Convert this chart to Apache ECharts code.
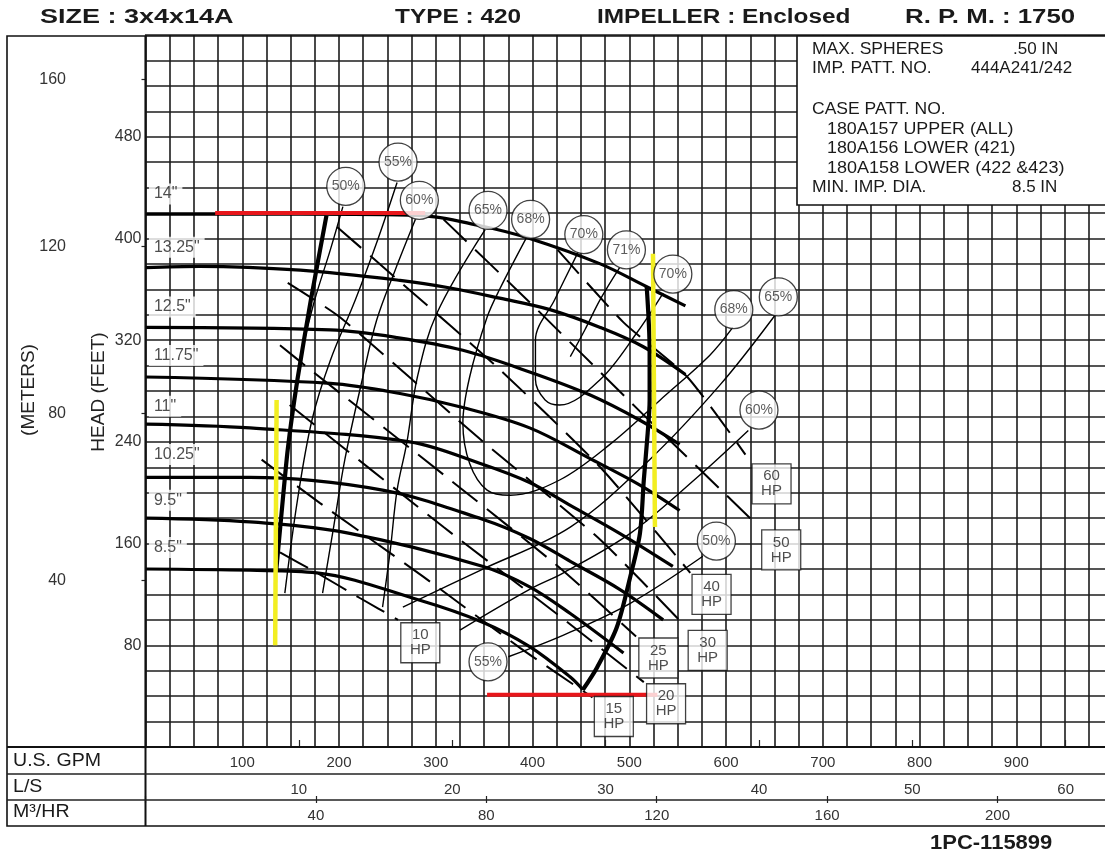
<!DOCTYPE html>
<html>
<head>
<meta charset="utf-8">
<script src="https://cdn.jsdelivr.net/npm/echarts@6/dist/echarts.min.js"></script>
<style>
  html, body { margin: 0; padding: 0; background: #fff; }
  #chart { width: 1105px; height: 853px; }
</style>
</head>
<body>
<div id="chart"></div>
<script>
// Pump performance curve, 3x4x14A, 1750 RPM. Flow in U.S. GPM, head in feet.

// Impeller diameter curves [gpm, ft]
const dia14 = [[0,419],[160,419],[284,418],[346,410],[397,400],[470,380],[518,362],[558,347]];
const dia1325 = [[0,377],[56,378],[160,375],[263,367],[315,361],[366,353],[418,344],[470,330],[514,315],[558,293]];
const dia125 = [[0,330],[191,328],[260,322],[328,312],[397,295],[459,277],[511,257],[552,238]];
const dia1175 = [[0,291],[191,286],[263,278],[328,267],[397,251],[459,227],[511,206],[552,186]];
const dia11 = [[0,254],[108,251],[273,240],[346,223],[397,208],[439,190],[490,168],[545,142]];
const dia1025 = [[0,212],[108,212],[245,202],[349,179],[397,164],[439,146],[490,124],[535,100]];
const dia95 = [[0,180],[108,177],[211,168],[349,142],[397,126],[439,105],[494,74]];
const dia85 = [[0,140],[108,139],[177,137],[281,116],[349,98],[397,79],[439,55],[452,45]];

// Diameter labels [gpm, ft, text]
const diaLabels = [[3,435,'14"'],[3,393,'13.25"'],[3,346,'12.5"'],[3,308,'11.75"'],[3,268,'11"'],[3,230,'10.25"'],[3,194,'9.5"'],[3,157,'8.5"']];

// Operating boundaries
const minFlowEdge = [[187,418],[171,352],[157,289],[147,234],[140,179],[135,138]];
const maxFlowEdge = [[518,362],[521,312],[521,273],[519,247],[515,210],[511,168],[501,134],[487,94],[467,63],[452,45]];

// Efficiency contours
const eff50a = [[204,425],[191,391],[175,352],[163,316]];
const eff50b = [[576,150],[501,113],[432,88],[375,71]];
const eff55a = [[260,444],[240,399],[217,352],[191,304],[172,257],[157,194],[144,121]];
const eff60a = [[279,415],[258,375],[239,336],[224,289],[206,226],[194,171],[183,121]];
const eff60b = [[623,249],[570,212],[501,168],[432,137],[397,124],[325,92]];
const eff65a = [[351,407],[301,341],[281,291],[270,239],[260,202],[253,155],[245,110]];
const eff65b = [[266,110],[346,139],[439,173],[521,226],[594,285],[651,340]];
const eff68 = [[394,401],[366,360],[353,338],[335,291],[328,255],[335,223],[353,202],[377,198],[428,210],[480,238],[532,273],[583,308],[607,330]];
const eff70 = [[447,389],[423,352],[403,320],[403,289],[413,273],[428,269],[470,289],[508,326],[535,357]];
const eff71 = [[490,377],[470,352],[454,328],[439,307]];

// Brake horsepower lines [gpm, ft]
const hp10 = [[139,153],[177,137],[222,117],[261,100]];
const hp15 = [[120,226],[180,192],[287,134],[387,78],[462,39]];
const hp20 = [[149,269],[308,173],[428,103],[515,51]];
const hp25 = [[139,316],[170,297],[315,210],[428,141],[507,87]];
const hp30 = [[147,365],[201,338],[346,242],[470,163],[559,94]];
const hp40 = [[198,409],[263,366],[366,297],[470,220],[563,137]];
const hp50 = [[308,415],[394,352],[511,264],[633,174]];
const hp60 = [[426,391],[494,334],[560,291],[620,230]];

// Efficiency tags [gpm, ft, text]
const effTags = [[207,441,'50%'],[261,460,'55%'],[283,430,'60%'],[354,422,'65%'],[398,415,'68%'],[453,403,'70%'],[497,391,'71%'],[545,372,'70%'],[608,344,'68%'],[654,354,'65%'],[634,265,'60%'],[590,162,'50%'],[354,67,'55%']];

// Horsepower tags [gpm, ft, hp]
const hpTags = [[284,82,10],[484,24,15],[538,34,20],[530,70,25],[581,76,30],[585,120,40],[657,155,50],[647,207,60]];

// Reference markers
const redTop = [[72,420],[289,420]];
const redBottom = [[353,41],[529,41]];
const yellowLeft = [[135.5,273],[134,80]];
const yellowRight = [[524.5,388],[526.5,173]];

// Axis settings
const gpmMax = 1000, headMax = 560;
const lpsPerGpm = 0.0630902, m3hPerGpm = 0.227125, mPerFt = 0.3048;

const FONT = '"Liberation Sans", Arial, sans-serif';
const chart = echarts.init(document.getElementById('chart'), null, { renderer: 'canvas' });

const gridLine = { show: true, lineStyle: { color: '#1c1c1c', width: 1.6 } };

function curve(data, width, extra) {
  return Object.assign({
    type: 'line', data: data, smooth: 0.35, showSymbol: false, silent: true,
    lineStyle: { color: '#000', width: width }, z: 5
  }, extra || {});
}

const series = [];
[dia14, dia1325, dia125, dia1175, dia11, dia1025, dia95, dia85].forEach(d => series.push(curve(d, 3.2)));
series.push(curve(minFlowEdge, 4.2, { smooth: 0.2 }));
series.push(curve(maxFlowEdge, 4.2, { smooth: 0.3 }));
[eff50a, eff50b, eff55a, eff60a, eff60b, eff65a, eff65b, eff68, eff70, eff71].forEach(d => series.push(curve(d, 1.4, { z: 4 })));
[hp10, hp15, hp20, hp25, hp30, hp40, hp50, hp60].forEach(d => series.push(curve(d, 2, { smooth: 0.2, z: 4, lineStyle: { color: '#000', width: 2, type: [32, 12] } })));
series.push(curve(redTop, 4, { smooth: false, lineStyle: { color: '#e8161b', width: 4 }, z: 7 }));
series.push(curve(redBottom, 4, { smooth: false, lineStyle: { color: '#e8161b', width: 4 }, z: 7 }));
series.push(curve(yellowLeft, 4.5, { smooth: false, lineStyle: { color: '#f2ee22', width: 4.5 }, z: 7 }));
series.push(curve(yellowRight, 4.5, { smooth: false, lineStyle: { color: '#f2ee22', width: 4.5 }, z: 7 }));

series.push({
  type: 'scatter', data: diaLabels, symbolSize: 1, silent: true, z: 6,
  itemStyle: { color: 'rgba(0,0,0,0)' },
  label: { show: true, position: 'right', distance: 0, formatter: p => p.value[2],
    fontFamily: FONT, fontSize: 16, color: '#222', backgroundColor: '#fff', padding: [3, 5, 2, 5] }
});
series.push({
  type: 'scatter', data: effTags, symbol: 'circle', symbolSize: [38, 38], silent: true, z: 8,
  itemStyle: { color: '#fff', borderColor: '#111', borderWidth: 1.3 },
  label: { show: true, position: 'inside', formatter: p => p.value[2], fontFamily: FONT, fontSize: 14, color: '#333' }
});
series.push({
  type: 'scatter', data: hpTags, symbol: 'rect', symbolSize: [39, 40], silent: true, z: 8,
  itemStyle: { color: '#fff', borderColor: '#111', borderWidth: 1.3 },
  label: { show: true, position: 'inside', formatter: p => p.value[2] + '\nHP', lineHeight: 15, fontFamily: FONT, fontSize: 15, color: '#222' }
});

const GL = 145.5, GT = 35, GW = 967.6, GH = 712;
const GB = GT + GH;

function txt(x, y, text, font, sx, extra) {
  return Object.assign({ type: 'text', x: x, y: y, scaleX: sx || 1, z: 23, silent: true,
    style: { text: text, font: font, fill: '#1a1a1a', align: 'left', verticalAlign: 'middle' } }, extra || {});
}

chart.setOption({
  animation: false,
  backgroundColor: '#fff',
  textStyle: { fontFamily: FONT },
  grid: { left: GL, top: GT, width: GW, height: GH, containLabel: false, outerBoundsMode: 'none' },
  xAxis: [
    { type: 'value', min: 0, max: gpmMax, interval: 25, splitLine: gridLine,
      axisLine: { show: false }, axisTick: { show: false },
      axisLabel: { margin: 8, fontSize: 15, color: '#333', fontFamily: FONT, showMaxLabel: false,
        formatter: v => (v % 100 === 0 && v > 0 && v < gpmMax) ? v : '' } },
    { type: 'value', min: 0, max: gpmMax * lpsPerGpm, interval: 10, position: 'bottom', offset: 30,
      splitLine: { show: false }, axisLine: { show: false },
      axisTick: { show: true, inside: true, length: 7, lineStyle: { color: '#222', width: 1.2 } },
      axisLabel: { margin: 5, fontSize: 15, color: '#333', fontFamily: FONT, showMaxLabel: false,
        formatter: v => (v > 0 && v % 10 === 0) ? v : '' } },
    { type: 'value', min: 0, max: gpmMax * m3hPerGpm, interval: 40, position: 'bottom', offset: 56,
      splitLine: { show: false }, axisLine: { show: false },
      axisTick: { show: true, inside: true, length: 7, lineStyle: { color: '#222', width: 1.2 } },
      axisLabel: { margin: 5, fontSize: 15, color: '#333', fontFamily: FONT, showMaxLabel: false,
        formatter: v => (v > 0 && v % 40 === 0) ? v : '' } }
  ],
  yAxis: [
    { type: 'value', min: 0, max: headMax, interval: 20, splitLine: gridLine,
      axisLine: { show: false }, axisTick: { show: false },
      axisLabel: { margin: 4, fontSize: 16, color: '#333', fontFamily: FONT,
        formatter: v => (v % 80 === 0 && v > 0 && v <= 480) ? v : '' } },
    { type: 'value', min: 0, max: headMax * mPerFt, interval: 40, position: 'left', offset: GL - 74,
      splitLine: { show: false },
      axisLine: { show: true, lineStyle: { color: '#222', width: 1.3 } },
      axisTick: { show: true, length: 4, lineStyle: { color: '#222', width: 1.2 } },
      axisLabel: { margin: 8, fontSize: 16, color: '#333', fontFamily: FONT, showMaxLabel: false,
        formatter: v => (v > 0 && v % 40 === 0) ? v : '' } }
  ],
  series: series,
  graphic: [
    // frame and flow table
    { type: 'rect', shape: { x: 7, y: 36, width: 1110, height: 790 }, style: { fill: 'none', stroke: '#111', lineWidth: 1.6 }, z: 20, silent: true },
    { type: 'line', shape: { x1: GL, y1: 36, x2: GL, y2: 826 }, style: { stroke: '#111', lineWidth: 2 }, z: 20, silent: true },
    { type: 'line', shape: { x1: 7, y1: GB, x2: 1110, y2: GB }, style: { stroke: '#111', lineWidth: 2 }, z: 20, silent: true },
    { type: 'line', shape: { x1: 7, y1: 774, x2: 1110, y2: 774 }, style: { stroke: '#222', lineWidth: 1.4 }, z: 20, silent: true },
    { type: 'line', shape: { x1: 7, y1: 800, x2: 1110, y2: 800 }, style: { stroke: '#222', lineWidth: 1.4 }, z: 20, silent: true },
    txt(13, 761, 'U.S. GPM', '19px ' + FONT, 1.03),
    txt(13, 787, 'L/S', '19px ' + FONT, 1.03),
    txt(13, 812, 'M³/HR', '19px ' + FONT, 1.03),
    // axis titles
    { type: 'text', x: 29, y: 390, rotation: Math.PI / 2, z: 21, silent: true, style: { text: '(METERS)', font: '19px ' + FONT, fill: '#222', align: 'center', verticalAlign: 'middle' } },
    { type: 'text', x: 99, y: 392, rotation: Math.PI / 2, z: 21, silent: true, style: { text: 'HEAD (FEET)', font: '19px ' + FONT, fill: '#222', align: 'center', verticalAlign: 'middle' } },
    // header
    txt(40, 17, 'SIZE : 3x4x14A', 'bold 20px ' + FONT, 1.35),
    txt(395, 17, 'TYPE : 420', 'bold 20px ' + FONT, 1.22),
    txt(597, 17, 'IMPELLER : Enclosed', 'bold 20px ' + FONT, 1.22),
    txt(905, 17, 'R. P. M. : 1750', 'bold 20px ' + FONT, 1.29),
    txt(930, 843, '1PC-115899', 'bold 20px ' + FONT, 1.1),
    // pattern box
    { type: 'rect', shape: { x: 797, y: 36, width: 320, height: 169 }, style: { fill: '#fff', stroke: '#111', lineWidth: 1.6 }, z: 22, silent: true },
    txt(812, 49, 'MAX. SPHERES', '17px ' + FONT, 1.03),
    txt(1013, 49, '.50 IN', '17px ' + FONT, 1.0),
    txt(812, 68, 'IMP. PATT. NO.', '17px ' + FONT, 1.03),
    txt(971, 68, '444A241/242', '17px ' + FONT, 1.0),
    txt(812, 109, 'CASE PATT. NO.', '17px ' + FONT, 1.03),
    txt(827, 129, '180A157 UPPER (ALL)', '17px ' + FONT, 1.05),
    txt(827, 148, '180A156 LOWER (421)', '17px ' + FONT, 1.05),
    txt(827, 168, '180A158 LOWER (422 &423)', '17px ' + FONT, 1.06),
    txt(812, 187, 'MIN. IMP. DIA.', '17px ' + FONT, 1.03),
    txt(1012, 187, '8.5 IN', '17px ' + FONT, 1.0)
  ]
});
</script>
</body>
</html>
